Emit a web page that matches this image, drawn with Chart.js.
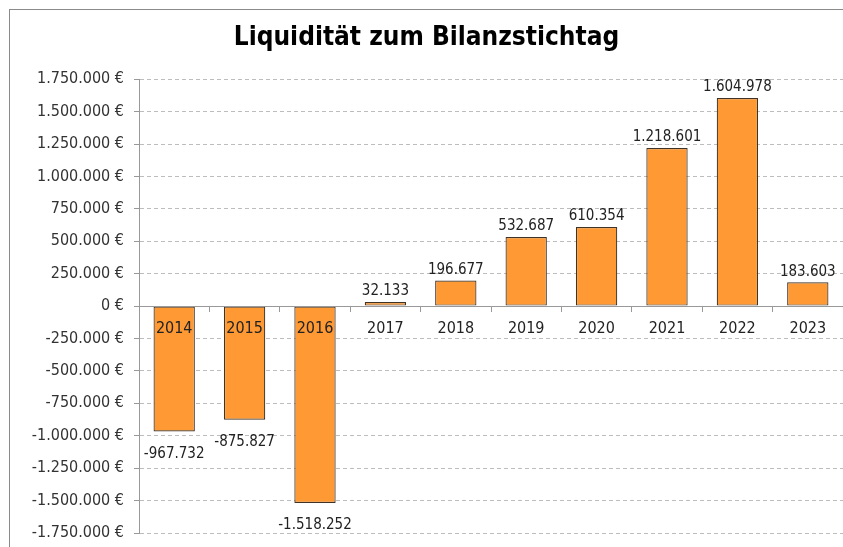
<!DOCTYPE html>
<html><head><meta charset="utf-8">
<script src="https://cdn.jsdelivr.net/npm/chart.js@4"></script>
<style>
html,body{margin:0;padding:0;background:#fff;overflow:hidden;width:843px;height:547px;}
#frame{position:absolute;left:9px;top:9px;width:900px;height:560px;border-left:1px solid #8a8a8a;border-top:1px solid #8a8a8a;box-sizing:border-box;}
#wrap{position:absolute;left:0;top:0;width:843px;height:539px;}
</style></head><body>
<div id="frame"><div id="wrap"><canvas id="c"></canvas></div></div>
<script>
const title = 'Liquidität zum Bilanzstichtag';
const years = ['2014','2015','2016','2017','2018','2019','2020','2021','2022','2023'];
const liquiditaet = [-967732, -875827, -1518252, 32133, 196677, 532687, 610354, 1218601, 1604978, 183603];
const yMin = -1750000, yMax = 1750000, yStep = 250000;

function fmt(v){
  const neg = v < 0; let s = String(Math.abs(Math.round(v)));
  s = s.replace(/\B(?=(\d{3})+(?!\d))/g, '.');
  return (neg ? '-' : '') + s;
}
const FONT = 'DejaVu Sans Condensed';
const valueLabels = {
  id: 'valueLabels',
  afterDatasetsDraw(chart){
    const ctx = chart.ctx; const meta = chart.getDatasetMeta(0);
    ctx.save(); ctx.font = '15px "' + FONT + '"'; ctx.fillStyle = '#222'; ctx.textAlign = 'center';
    meta.data.forEach((bar, i) => {
      const v = liquiditaet[i];
      if (v >= 0) { ctx.textBaseline = 'bottom'; ctx.fillText(fmt(v), bar.x, bar.y - 3); }
      else { ctx.textBaseline = 'top'; ctx.fillText(fmt(v), bar.x, bar.y + 15); }
    });
    ctx.restore();
  }
};

new Chart(document.getElementById('c'), {
  type: 'bar',
  data: { labels: years, datasets: [{ data: liquiditaet, backgroundColor: '#FF9933', borderColor: '#3f3328', borderWidth: 1.2, borderSkipped: false, barPercentage: 0.587, categoryPercentage: 1 }] },
  options: {
    responsive: true, maintainAspectRatio: false, animation: false,
    layout: { padding: { left: 0, right: 10, top: 0, bottom: 16 } },
    plugins: {
      legend: { display: false }, tooltip: { enabled: false },
      title: { display: true, text: title, color: '#000', font: { family: 'DejaVu Sans Condensed', size: 26, weight: 'bold' }, padding: { top: 13, bottom: 25 } }
    },
    scales: {
      x: {
        position: { y: 0 },
        grid: { display: true, drawOnChartArea: false, drawTicks: true, tickLength: 5, tickColor: '#999', offset: true, z: 1 },
        border: { display: true, color: '#999', width: 1, z: 1 },
        ticks: { color: '#222', font: { family: FONT, size: 16 }, padding: 8, maxRotation: 0, z: 2 }
      },
      y: {
        min: yMin, max: yMax,
        afterFit(scale){ scale.width = 129; scale.paddingTop = 0; scale.paddingBottom = 0; },
        grid: { color: '#bdbdbd', tickLength: 5, tickColor: '#999', tickBorderDash: [] },
        border: { display: true, color: '#999', width: 1, dash: [4,3] },
        ticks: { stepSize: yStep, color: '#333', font: { family: FONT, size: 16 }, padding: 10, callback: v => fmt(v) + ' €' }
      }
    }
  },
  plugins: [valueLabels]
});
</script></body></html>
